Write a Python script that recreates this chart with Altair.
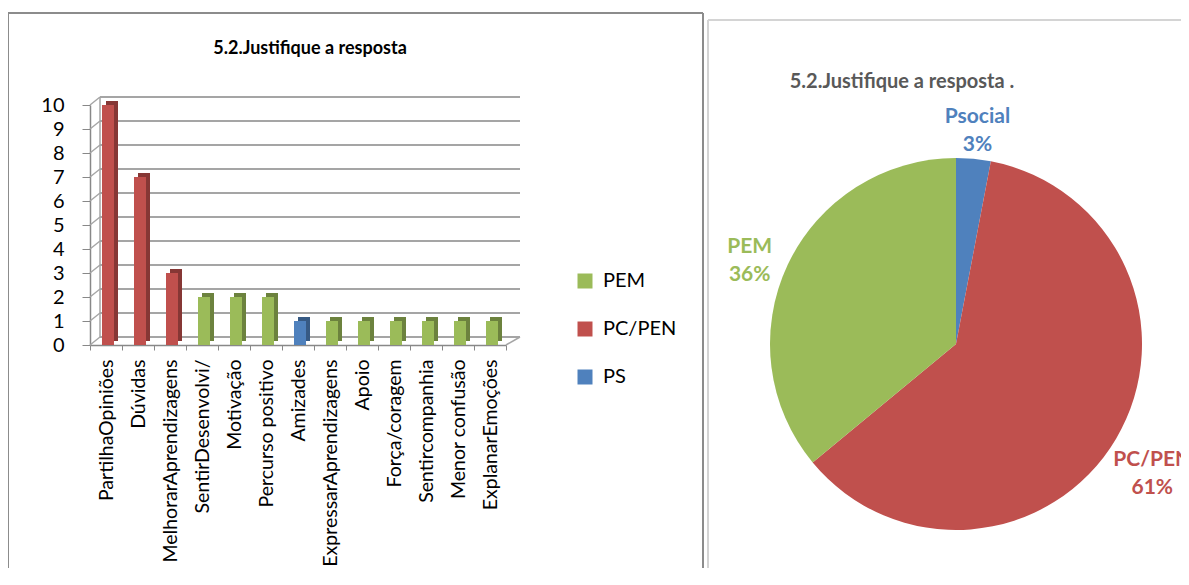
import altair as alt
import pandas as pd

# ---------------- data ----------------
categories = ["PartilhaOpiniões", "Dúvidas", "MelhorarAprendizagens", "SentirDesenvolvi/",
              "Motivação", "Percurso positivo", "Amizades", "ExpressarAprendizagens",
              "Apoio", "Força/coragem", "Sentircompanhia", "Menor confusão", "ExplanarEmoções"]
counts = [10, 7, 3, 2, 2, 2, 1, 1, 1, 1, 1, 1, 1]
groups = ["PC/PEN", "PC/PEN", "PC/PEN", "PEM", "PEM", "PEM", "PS",
          "PEM", "PEM", "PEM", "PEM", "PEM", "PEM"]
legend_order = ["PEM", "PC/PEN", "PS"]
y_ticks = [0, 1, 2, 3, 4, 5, 6, 7, 8, 9, 10]

pie_names = ["Psocial", "PC/PEN", "PEM"]
pie_pct = [3, 61, 36]

bar_title = "5.2.Justifique a resposta"
pie_title = "5.2.Justifique a resposta ."

GREEN, RED, BLUE = "#9BBB59", "#C0504D", "#4F81BD"
FONT = "Lato"

bars_df = pd.DataFrame({"cat": categories, "n": counts, "grp": groups})
grid_df = pd.DataFrame({"lvl": y_ticks})
pie_df = pd.DataFrame({"name": pie_names, "pct": pie_pct, "ord": list(range(len(pie_names)))})
pie_df["label"] = [f"{n}\n{p}%" for n, p in zip(pie_names, pie_pct)]
one = pd.DataFrame({"k": [0]})

W, H = 416, 240
GRID = "#a5a5a5"

# ---------------- bar chart ----------------
y_axis = alt.Axis(values=y_ticks, title=None, grid=False, labelFontSize=20,
                  labelFont=FONT, labelColor="#000", tickSize=8, labelPadding=18,
                  tickColor="#888", domainColor="#888", domainWidth=1.5)
y_scale = alt.Scale(domain=[0, 10], nice=False)

x_enc = alt.X("cat:N", sort=categories,
              scale=alt.Scale(paddingInner=0, paddingOuter=0),
              axis=alt.Axis(title=None, labelAngle=270, labelFontSize=19.5, labelFont=FONT,
                            labelColor="#000", tickBand="extent", tickSize=5,
                            tickColor="#888", domainColor="#888", domainWidth=1.5,
                            labelPadding=9, labelLimit=320))
y_enc = alt.Y("n:Q", scale=y_scale, axis=y_axis)
color_enc = alt.Color("grp:N", scale=alt.Scale(domain=legend_order, range=[GREEN, RED, BLUE]),
                      legend=alt.Legend(title=None, orient="none", legendX=485, legendY=166,
                                        symbolType="square", symbolSize=225,
                                        symbolStrokeWidth=0, labelFontSize=20, labelFont=FONT,
                                        labelColor="#000", rowPadding=28, labelOffset=8))

base = alt.Chart(bars_df).encode(x=x_enc, y=y_enc)
side = base.mark_bar(width=12, xOffset=6, yOffset=-4).encode(color=color_enc)
shade = base.mark_bar(width=12, xOffset=6, yOffset=-4, color="black", opacity=0.3)
front = base.mark_bar(width=12, xOffset=2).encode(color=color_enc)
bars = alt.layer(side, shade, front)

back_grid = alt.Chart(grid_df).mark_rule(color=GRID, strokeWidth=2, yOffset=-8).encode(
    y=alt.Y("lvl:Q", scale=y_scale, axis=y_axis), x=alt.value(10), x2=alt.value(W + 14))
diag = alt.Chart(grid_df).mark_rule(color=GRID, strokeWidth=1.5, y2Offset=-8).encode(
    y=alt.Y("lvl:Q", scale=y_scale, axis=y_axis), y2="lvl:Q", x=alt.value(0), x2=alt.value(10))
back_wall = alt.Chart(grid_df).mark_rule(color=GRID, strokeWidth=1.5, yOffset=-8, y2Offset=-8).encode(
    x=alt.value(10), y=alt.Y("min(lvl):Q", scale=y_scale, axis=y_axis), y2="max(lvl):Q")
floor_edge = alt.Chart(grid_df).mark_rule(color=GRID, strokeWidth=1.5, y2Offset=-8).encode(
    x=alt.value(W), x2=alt.value(W + 14),
    y=alt.Y("min(lvl):Q", scale=y_scale, axis=y_axis), y2="min(lvl):Q")

bar_title_mark = alt.Chart(one).mark_text(fontSize=18, fontWeight="bold", font=FONT,
                                          color="#000", align="center", baseline="middle").encode(
    x=alt.value(220), y=alt.value(-56), text=alt.value(bar_title))

# ---------------- pie chart ----------------
pie_color = alt.Color("name:N", scale=alt.Scale(domain=pie_names, range=[BLUE, RED, GREEN]),
                      legend=None)
pie_base = alt.Chart(pie_df).encode(
    theta=alt.Theta("pct:Q", stack=True), color=pie_color, order=alt.Order("ord:Q"),
    x=alt.value(866), y=alt.value(239))
arc = pie_base.mark_arc(radius=186)
labels = pie_base.mark_text(radius=228, lineBreak="\n", fontSize=21, fontWeight="bold",
                            font=FONT, lineHeight=28, align="center", baseline="middle").encode(
    text="label:N")
pie = alt.layer(arc, labels)

pie_title_mark = alt.Chart(one).mark_text(fontSize=20, fontWeight="bold", font=FONT,
                                          color="#595959", align="center", baseline="middle").encode(
    x=alt.value(812), y=alt.value(-23), text=alt.value(pie_title))

# ---------------- panel frames ----------------
LF = "#8c8c8c"
RF = "#d4d4d4"
def frame_rule(x, x2, y, y2, col):
    return alt.Chart(one).mark_rule(color=col, strokeWidth=2).encode(
        x=alt.value(x), x2=alt.value(x2), y=alt.value(y), y2=alt.value(y2))

frames = [
    frame_rule(-82, -82, -92, 470, LF),
    frame_rule(-82, 613, -92, -92, LF),
    frame_rule(613, 613, -92, 470, LF),
    frame_rule(618, 618, -85, 470, RF),
    frame_rule(618, 1100, -85, -85, RF),
]

chart = alt.layer(
    *frames, back_grid, diag, back_wall, floor_edge, bars, pie, bar_title_mark, pie_title_mark
).resolve_scale(color="independent").properties(
    width=W, height=H,
    autosize=alt.AutoSizeParams(type="none"),
    padding={"left": 82, "top": 97, "right": 675, "bottom": 223},
).configure(font=FONT).configure_view(stroke="transparent")

chart.save("out.html", embed_options={"renderer": "svg", "actions": False})
